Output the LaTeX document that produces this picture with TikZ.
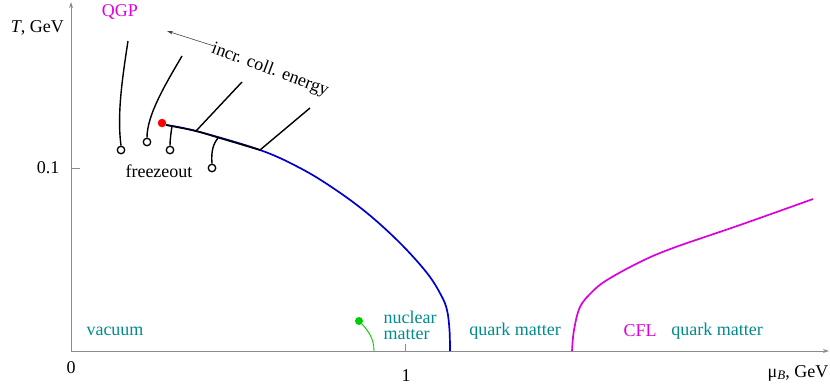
\documentclass[tikz,border=0pt]{standalone}
\usepackage{fontspec}
\setmainfont{Liberation Serif}
\usetikzlibrary{arrows.meta}
\definecolor{tealtxt}{RGB}{0,140,140}
\definecolor{magc}{RGB}{220,0,220}
\definecolor{bluec}{RGB}{0,0,205}
\definecolor{greenc}{RGB}{0,205,0}
\definecolor{axisc}{RGB}{140,140,140}
\begin{document}
\begin{tikzpicture}[x=1pt,y=-1pt,
  lbl/.style={font=\fontsize{18}{20}\selectfont, inner sep=0pt},
  region/.style={lbl, text=tealtxt},
  axisline/.style={draw=axisc, line width=0.9pt},
  traj/.style={draw=black, line width=1.4pt},
  endpt/.style={circle, draw=black, fill=white, line width=1.3pt, minimum size=7.5pt, inner sep=0pt},
  boundary/.style={line width=1.7pt}
]
\useasboundingbox (0,0) rectangle (830,386);
% axes
\coordinate (O) at (71,351);
\coordinate (ytop) at (71,2);
\coordinate (xend) at (829,351);
\draw[axisline, -{Stealth[length=6pt,width=4pt]}] (O) -- (ytop);
\draw[axisline, -{Stealth[length=6pt,width=4pt]}] (O) -- (xend);
\coordinate (t1a) at (71,168); \coordinate (t1b) at (80,168);
\draw[axisline] (t1a) -- (t1b);
\coordinate (t2a) at (405,351); \coordinate (t2b) at (405,344);
\draw[axisline] (t2a) -- (t2b);
% axis labels
\node[lbl, anchor=east] (Tlab) at (64,28) {{\itshape T}, GeV};
\node[lbl] (l01) at (48,168) {0.1};
\node[lbl] (l0) at (71,368) {0};
\node[lbl] (l1) at (406,376) {1};
\node[lbl] (mulab) at (798,373) {μ\raisebox{-0.35ex}{\fontsize{13}{14}\selectfont\itshape B}, GeV};
% region labels
\node[lbl, text=magc] (qgp) at (120,12) {QGP};
\node[region] (vac) at (115,331) {vacuum};
\node[region, align=left] (nuc) at (410,325) {nuclear\\[-4pt]matter};
\node[region] (qm) at (515,331) {quark matter};
\node[lbl, text=magc] (cfl) at (640,331) {CFL};
\node[region] (cflqm) at (717,331) {quark matter};
\node[lbl] (fz) at (159,171) {freezeout};
\node[lbl, rotate=-20.5] (incr) at (270,70) {incr. coll. energy};
% arrow
\coordinate (arrA) at (214,46);
\coordinate (arrB) at (167,31);
\draw[draw=black!75, line width=0.6pt, -{Stealth[length=6pt,width=3.5pt]}] (arrA) -- (arrB);
% blue chiral boundary
\draw[bluec, boundary] plot[smooth, tension=0.6] coordinates {(166,125) (196,131) (260,150) (300,168) (333,188) (367,213) (400,243) (427,273) (441,295) (447,310) (449.5,330) (450,351)};
% black overlay on the crossover-ish part
\draw[black, line width=1.6pt] plot[smooth, tension=0.5] coordinates {(166,125) (196,131) (218,137.5) (260,150)};
% CFL boundary
\draw[magc, boundary] plot[smooth, tension=0.6] coordinates {(572,351) (574,330) (580,307) (592,292) (607,280) (640,262) (673,248) (740,225) (813,199)};
% nuclear liquid-gas line
\node[circle, fill=greenc, minimum size=8pt, inner sep=0pt] (gdot) at (359,321) {};
\coordinate (gend) at (374,351);
\draw[greenc, line width=0.9pt] (gdot.center) .. controls (368,330) and (374,338) .. (gend);
% critical point
\node[circle, fill=red, minimum size=8.5pt, inner sep=0pt] (cp) at (162,123) {};
% trajectories
\node[endpt] (e1) at (121,150) {};
\node[endpt] (e2) at (147,142) {};
\node[endpt] (e3) at (170,150) {};
\node[endpt] (e4) at (212,168) {};
\coordinate (s1) at (128,41);
\coordinate (s2) at (182,56);
\coordinate (s3) at (242,82);
\coordinate (p3) at (196,131);
\coordinate (s4) at (310,108);
\coordinate (p4) at (260,150);
\coordinate (s5) at (172,126);
\coordinate (s6) at (218,138);
\draw[traj] (s1) .. controls (122,80) and (117,115) .. (e1.north);
\draw[traj] (s2) .. controls (165,85) and (147,115) .. (e2.north);
\draw[traj] (s3) -- (p3);
\draw[traj] (s4) -- (p4);
\draw[traj] (s5) .. controls (171,133) and (170,140) .. (e3.north);
\draw[traj] (s6) .. controls (213,144) and (211,152) .. (e4.north);
\end{tikzpicture}
\end{document}
